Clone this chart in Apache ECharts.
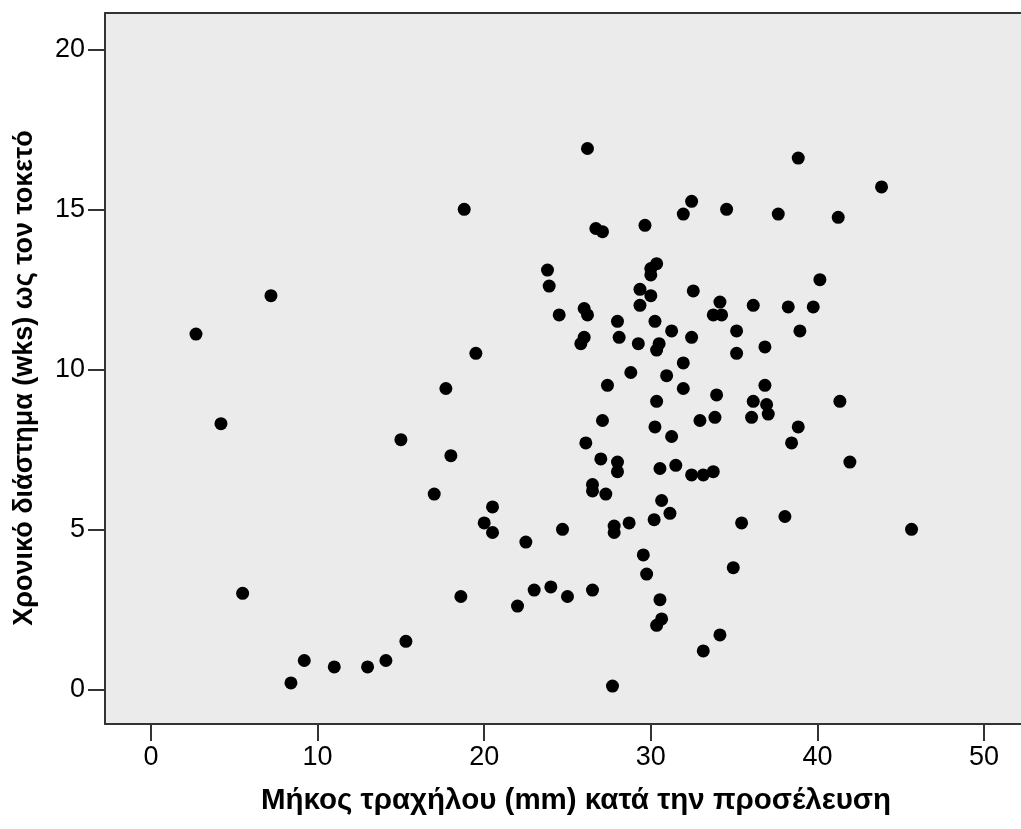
<!DOCTYPE html>
<html>
<head>
<meta charset="utf-8">
<script src="https://cdn.jsdelivr.net/npm/echarts@6/dist/echarts.min.js"></script>
<style>html,body{margin:0;padding:0;background:#fff;overflow:hidden;}#c{width:1021px;height:829px;overflow:hidden;}</style>
</head>
<body>
<div id="c"></div>
<script>
const xTitle = 'Μήκος τραχήλου (mm) κατά την προσέλευση';
const yTitle = 'Χρονικό διάστημα (wks) ως τον τοκετό';
const xTickValues = [0, 10, 20, 30, 40, 50];
const yTickValues = [0, 5, 10, 15, 20];
const cervicalLength = [2.7,4.2,5.5,7.2,8.4,9.2,11.0,13.0,14.1,15.0,15.3,17.0,17.7,18.0,18.6,18.8,19.5,20.0,20.5,20.5,
  22.0,22.5,23.0,23.8,23.9,24.0,24.5,24.7,25.0,25.8,26.0,26.0,26.1,26.2,26.2,26.5,26.5,26.5,26.7,27.1,
  27.0,27.1,27.3,27.4,27.7,27.8,27.8,28.0,28.1,28.0,28.0,28.7,28.8,29.25,29.35,29.35,29.55,29.65,29.75,30.0,
  30.0,30.0,30.2,30.25,30.25,30.35,30.35,30.35,30.35,30.5,30.55,30.55,30.65,30.65,30.95,31.15,31.25,31.25,31.5,31.95,
  31.95,31.95,32.45,32.45,32.45,32.55,32.95,33.15,33.15,33.75,33.75,33.85,33.95,34.15,34.15,34.25,34.55,34.95,35.15,35.15,
  35.45,36.05,36.15,36.15,36.85,36.85,36.95,37.05,37.65,38.05,38.25,38.45,38.85,38.95,38.85,39.75,40.15,41.25,41.35,41.95,
  43.85,45.65];
const timeToDelivery = [11.1,8.3,3.0,12.3,0.2,0.9,0.7,0.7,0.9,7.8,1.5,6.1,9.4,7.3,2.9,15.0,10.5,5.2,5.7,4.9,
  2.6,4.6,3.1,13.1,12.6,3.2,11.7,5.0,2.9,10.8,11.0,11.9,7.7,11.7,16.9,3.1,6.4,6.2,14.4,14.3,
  7.2,8.4,6.1,9.5,0.1,5.1,4.9,11.5,11.0,7.1,6.8,5.2,9.9,10.8,12.5,12.0,4.2,14.5,3.6,13.15,
  12.95,12.3,5.3,11.5,8.2,9.0,10.6,13.3,2.0,10.8,6.9,2.8,2.2,5.9,9.8,5.5,7.9,11.2,7.0,14.85,
  10.2,9.4,6.7,15.25,11.0,12.45,8.4,1.2,6.7,11.7,6.8,8.5,9.2,12.1,1.7,11.7,15.0,3.8,11.2,10.5,
  5.2,8.5,12.0,9.0,9.5,10.7,8.9,8.6,14.85,5.4,11.95,7.7,16.6,11.2,8.2,11.95,12.8,14.75,9.0,7.1,
  15.7,5.0];

const points = cervicalLength.map((v, i) => [v, timeToDelivery[i]]);

const chart = echarts.init(document.getElementById('c'), null, {renderer: 'canvas', width: 1021, height: 829});
const labelFont = {color: '#000', fontSize: 27, fontFamily: 'Liberation Sans, Arial, sans-serif'};
const xMin = -2.761, xMax = -2.761 + 930 / 16.66;
const yMin = -(724 - 689.3) / 32, yMax = (689.3 - 13) / 32;
chart.setOption({
  animation: false,
  grid: {left: 105, top: 13, width: 930, height: 711, show: false, outerBoundsMode: 'none', containLabel: false},
  xAxis: [{
    type: 'value', min: xMin, max: xMax,
    splitLine: {show: false},
    axisLine: {show: true, onZero: false, lineStyle: {color: '#333', width: 2}},
    axisTick: {show: true, inside: false, length: 17, customValues: xTickValues, lineStyle: {color: '#333', width: 2}},
    axisLabel: Object.assign({customValues: xTickValues, margin: 20}, labelFont)
  }, {
    type: 'value', position: 'top', min: xMin, max: xMax,
    splitLine: {show: false},
    axisLine: {show: true, onZero: false, lineStyle: {color: '#333', width: 2}},
    axisTick: {show: false}, axisLabel: {show: false}
  }],
  yAxis: {
    type: 'value', min: yMin, max: yMax,
    splitLine: {show: false},
    axisLine: {show: true, onZero: false, lineStyle: {color: '#333', width: 2}},
    axisTick: {show: true, inside: false, length: 17, customValues: yTickValues, lineStyle: {color: '#333', width: 2}},
    axisLabel: Object.assign({customValues: yTickValues, margin: 20}, labelFont)
  },
  graphic: [
    {type: 'text', x: 576, y: 801, style: {text: xTitle, fill: '#000', align: 'center', verticalAlign: 'middle',
      font: 'bold 29.5px "Liberation Sans Narrow", "Liberation Sans", Arial, sans-serif'}},
    {type: 'text', x: 25, y: 378, rotation: Math.PI / 2, style: {text: yTitle, fill: '#000', align: 'center', verticalAlign: 'middle',
      font: 'bold 27px "Liberation Sans", Arial, sans-serif'}}
  ],
  series: [{
    type: 'scatter', xAxisIndex: 0, data: points, symbol: 'circle', symbolSize: 13, clip: false,
    itemStyle: {color: '#000', opacity: 1},
    markArea: {silent: true, itemStyle: {color: '#EBEBEB', borderWidth: 0}, z: -1,
      data: [[{coord: [xMin, yMin]}, {coord: [xMax, yMax]}]]}
  }]
});
</script>
</body>
</html>
